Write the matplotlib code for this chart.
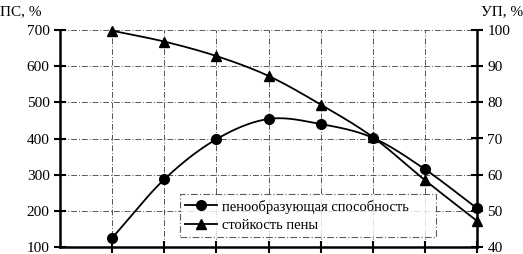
import numpy as np
import matplotlib
matplotlib.use("Agg")
import matplotlib.pyplot as plt

x = [1, 2, 3, 4, 5, 6, 7, 8]
ps = [125, 287, 398, 454, 440, 402, 315, 207]
up = [99.8, 96.8, 92.8, 87.3, 79.4, 70.4, 58.5, 47.2]
left_ticks = [100, 200, 300, 400, 500, 600, 700]
right_ticks = [40, 50, 60, 70, 80, 90, 100]
labels = ["пенообразующая способность", "стойкость пены"]

plt.rcParams['font.family'] = ['Liberation Serif', 'DejaVu Serif']


def smooth(xs, ys, n=20):
    xs = np.asarray(xs, float); ys = np.asarray(ys, float)
    px = np.concatenate([[2 * xs[0] - xs[1]], xs, [2 * xs[-1] - xs[-2]]])
    py = np.concatenate([[2 * ys[0] - ys[1]], ys, [2 * ys[-1] - ys[-2]]])
    ox, oy = [], []
    for i in range(1, len(px) - 2):
        t = np.linspace(0, 1, n, endpoint=False)
        for arr, out in ((px, ox), (py, oy)):
            p0, p1, p2, p3 = arr[i - 1], arr[i], arr[i + 1], arr[i + 2]
            out.extend(0.5 * ((2 * p1) + (-p0 + p2) * t + (2 * p0 - 5 * p1 + 4 * p2 - p3) * t ** 2
                              + (-p0 + 3 * p1 - 3 * p2 + p3) * t ** 3))
    ox.append(xs[-1]); oy.append(ys[-1])
    return np.array(ox), np.array(oy)


fig = plt.figure(figsize=(5.23, 2.54), dpi=100)
ax = fig.add_axes([60 / 523, 1 - 247 / 254, 417 / 523, 217 / 254])
ax2 = ax.twinx()

ax.set_xlim(0, 8)
ax.set_ylim(100, 700)
ax2.set_ylim(40, 100)

for yv in left_ticks[1:]:
    ax.axhline(yv, color='#555555', lw=0.7, ls=(0, (6, 2, 1, 2)), zorder=0, clip_on=False)
for xv in x[:-1]:
    ax.axvline(xv, color='#555555', lw=0.7, ls=(0, (6, 2, 1, 2)), zorder=0)

sx, sy = smooth(x, ps)
ax.plot(sx, sy, color='black', lw=1.3)
ax.plot(x, ps, 'o', color='black', ms=7, clip_on=False)
tx, ty = smooth(x, up)
ax2.plot(tx, ty, color='black', lw=1.3)
ax2.plot(x, up, '^', color='black', ms=7.5, clip_on=False)

h1, = ax.plot([], [], '-o', color='black', lw=1.3, ms=7)
h2, = ax.plot([], [], '-^', color='black', lw=1.3, ms=7)
leg = ax.legend([h1, h2], labels, loc='lower left', bbox_to_anchor=(120 / 417, 10 / 217, 256 / 417, 45 / 217),
                mode='expand', fontsize=10.5, frameon=True, fancybox=False, borderaxespad=0,
                handlelength=2.2, handletextpad=0.3, labelspacing=0.35, borderpad=0.35)
leg.get_frame().set_edgecolor('#333333')
leg.get_frame().set_linewidth(0.8)
leg.get_frame().set_linestyle((0, (6, 2, 1, 2)))

ax.set_xticks(x)
ax.set_xticklabels([])
ax.set_yticks(left_ticks)
ax2.set_yticks(right_ticks)
for a in (ax, ax2):
    a.spines['top'].set_visible(False)
    for s in a.spines.values():
        s.set_linewidth(1.8)
ax.spines['right'].set_visible(False)
ax2.spines['left'].set_visible(False)
ax2.spines['bottom'].set_visible(False)
ax.tick_params(axis='both', direction='inout', length=9, width=1.5, labelsize=11, pad=3)
ax2.tick_params(axis='y', direction='inout', length=9, width=1.5, labelsize=11, pad=3)

fig.text(0.0, 1 - 12 / 254, "ПС, %", fontsize=11, ha='left', va='center')
fig.text(1.0, 1 - 12 / 254, "УП, %", fontsize=11, ha='right', va='center')

fig.savefig("out.png", dpi=100)
